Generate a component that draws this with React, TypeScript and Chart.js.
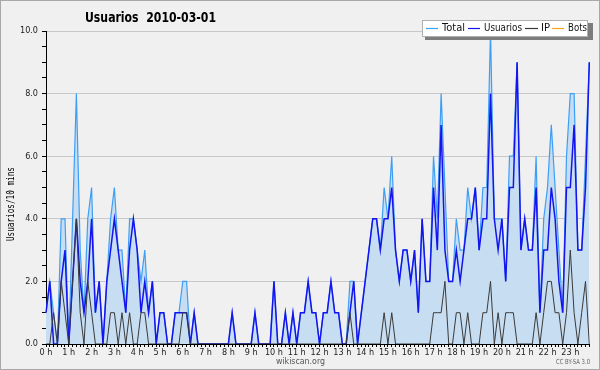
import { useEffect, useRef } from 'react';
import { Chart, registerables } from 'chart.js';
Chart.register(...registerables);

const titleText = 'Usuarios  2010-03-01';
const yTitle = 'Usuarios/10 mins';
const hourTicks = ['0 h','1 h','2 h','3 h','4 h','5 h','6 h','7 h','8 h','9 h','10 h','11 h','12 h','13 h','14 h','15 h','16 h','17 h','18 h','19 h','20 h','21 h','22 h','23 h'];
const slotsPerHour = 6;
const categories: string[] = [];
for (let h = 0; h < 24; h++) for (let m = 0; m < slotsPerHour; m++) categories.push(`${h}:${m}0`);

const usuarios = [
  1,2,0,0,2,3, 0,2,4,2,1,2, 4,1,2,0,2,3, 4,3,2,1,3,4, 3,1,2,1,2,0, 1,1,0,0,1,1,
  1,1,0,1,0,0, 0,0,0,0,0,0, 0,1,0,0,0,0, 0,1,0,0,0,0, 2,0,0,1,0,1, 0,1,1,2,1,1,
  0,1,1,2,1,1, 0,0,1,2,0,1, 2,3,4,4,3,4, 4,5,3,2,3,3, 2,3,1,4,2,2, 5,3,7,3,2,2,
  3,2,3,4,4,5, 3,4,4,8,4,3, 4,2,5,5,9,3, 4,3,3,5,1,3, 3,5,4,2,1,5, 5,7,3,3,5,9
];
const ip = [
  0,0,1,0,2,1, 0,2,4,1,0,2, 1,0,0,0,0,1, 1,0,1,0,1,0, 0,1,1,0,0,0, 0,0,0,0,0,0,
  1,1,0,0,0,0, 0,0,0,0,0,0, 0,0,0,0,0,0, 0,0,0,0,0,0, 0,0,0,0,0,0, 0,0,0,0,0,0,
  0,0,0,0,0,0, 0,0,1,0,0,0, 0,0,0,0,0,1, 0,1,0,0,0,0, 0,0,0,0,0,0, 1,1,1,2,0,0,
  1,1,0,1,0,0, 0,1,1,2,0,1, 0,1,1,1,0,0, 0,0,0,1,0,1, 2,2,1,1,0,1, 3,1,0,1,2,0
];
const total = [
  1,2,1,0,4,4, 0,4,8,3,1,4, 5,1,2,0,2,4, 5,3,3,1,4,4, 3,2,3,1,2,0, 1,1,0,0,1,1,
  2,2,0,1,0,0, 0,0,0,0,0,0, 0,1,0,0,0,0, 0,1,0,0,0,0, 2,0,0,1,0,1, 0,1,1,2,1,1,
  0,1,1,2,1,1, 0,0,2,2,0,1, 2,3,4,4,3,5, 4,6,3,2,3,3, 2,3,1,4,2,2, 6,4,8,5,2,2,
  4,3,3,5,4,5, 3,5,5,10,4,4, 4,2,6,6,9,3, 4,3,3,6,1,4, 5,7,5,3,1,6, 8,8,3,3,6,9
];
const bots = [
  0,0,0,0,0,0, 0,0,0,0,0,0, 0,0,0,0,0,0, 0,0,0,0,0,0, 0,0,0,0,0,0, 0,0,0,0,0,0,
  0,0,0,0,0,0, 0,0,0,0,0,0, 0,0,0,0,0,0, 0,0,0,0,0,0, 0,0,0,0,0,0, 0,0,0,0,0,0,
  0,0,0,0,0,0, 0,0,0,0,0,0, 0,0,0,0,0,0, 0,0,0,0,0,0, 0,0,0,0,0,0, 0,0,0,0,0,0,
  0,0,0,0,0,0, 0,0,0,0,0,0, 0,0,0,0,0,0, 0,0,0,0,0,0, 0,0,0,0,0,0, 0,0,0,0,0,0
];

const C_TOTAL = '#3d9ef5';
const C_FILL = '#c7ddf1';
const C_USR = '#1414f0';
const C_IP = '#3a3a3a';
const C_BOTS = '#ffa41c';
const FONT = '"DejaVu Sans Condensed", "DejaVu Sans", sans-serif';

function fitText(ctx: CanvasRenderingContext2D, text: string, x: number, y: number, w: number) {
  const m = ctx.measureText(text).width;
  const s = w / m;
  ctx.save();
  ctx.translate(x, y);
  ctx.scale(s, 1);
  ctx.textAlign = 'left';
  ctx.fillText(text, 0, 0);
  ctx.restore();
}

const decor = {
  id: 'decor',
  beforeDraw(chart: any) {
    const ctx = chart.ctx as CanvasRenderingContext2D;
    ctx.save();
    ctx.fillStyle = '#f0f0f0';
    ctx.fillRect(0, 0, chart.width, chart.height);
    ctx.restore();
  },
  afterDraw(chart: any) {
    const ctx = chart.ctx as CanvasRenderingContext2D;
    ctx.save();
    // outer border
    ctx.strokeStyle = '#a8a8a8';
    ctx.lineWidth = 1;
    ctx.strokeRect(0.5, 0.5, chart.width - 1, chart.height - 1);
    // title
    ctx.fillStyle = '#000';
    ctx.textBaseline = 'middle';
    ctx.font = 'bold 14px ' + FONT;
    fitText(ctx, titleText, 85, 18, 131);
    // y title
    ctx.save();
    ctx.translate(11, 204);
    ctx.rotate(-Math.PI / 2);
    ctx.font = '10px "DejaVu Sans Mono", monospace';
    ctx.fillStyle = '#000';
    fitText(ctx, yTitle, -37, 0, 74);
    ctx.restore();
    // legend
    ctx.fillStyle = '#7c7c7c';
    ctx.fillRect(425, 23, 168, 17);
    ctx.fillStyle = '#ffffff';
    ctx.fillRect(422, 20, 166, 17);
    ctx.strokeStyle = '#b0b0b0';
    ctx.strokeRect(422.5, 20.5, 165, 16);
    const items = [
      { c: C_TOTAL, x0: 426, x1: 438, t: 'Total', tx: 442, tw: 23 },
      { c: C_USR, x0: 468, x1: 480, t: 'Usuarios', tx: 484, tw: 38 },
      { c: C_IP, x0: 525, x1: 538, t: 'IP', tx: 541, tw: 9 },
      { c: C_BOTS, x0: 552, x1: 564, t: 'Bots', tx: 568, tw: 19 },
    ];
    ctx.font = '11px ' + FONT;
    for (const it of items) {
      ctx.strokeStyle = it.c;
      ctx.lineWidth = 1.2;
      ctx.beginPath();
      ctx.moveTo(it.x0, 28.5);
      ctx.lineTo(it.x1, 28.5);
      ctx.stroke();
      ctx.fillStyle = '#111';
      fitText(ctx, it.t, it.tx, 28.5, it.tw);
    }
    // footer
    ctx.fillStyle = '#555';
    ctx.font = '9px ' + FONT;
    fitText(ctx, 'wikiscan.org', 276, 362, 49);
    ctx.font = '7px ' + FONT;
    ctx.fillStyle = '#666';
    fitText(ctx, 'CC BY-SA 3.0', 556, 362, 34);
    ctx.restore();
  },
};

export default function App() {
  const ref = useRef<HTMLCanvasElement>(null);
  useEffect(() => {
    document.body.style.margin = '0';
    const chart = new Chart(ref.current!, {
      type: 'line',
      data: {
        labels: categories,
        datasets: [
          { label: 'Total', data: total, borderColor: C_TOTAL, backgroundColor: C_FILL, fill: 'origin', borderWidth: 1.2, pointRadius: 0, tension: 0, order: 2 },
          { label: 'Usuarios', data: usuarios, borderColor: C_USR, backgroundColor: C_USR, fill: false, borderWidth: 1.5, pointRadius: 0, tension: 0, order: 1 },
          { label: 'IP', data: ip, borderColor: C_IP, backgroundColor: C_IP, fill: false, borderWidth: 1, pointRadius: 0, tension: 0, order: 0 },
          { label: 'Bots', data: bots, borderColor: C_BOTS, backgroundColor: C_BOTS, fill: false, borderWidth: 1, pointRadius: 0, tension: 0, order: 3 },
        ],
      },
      options: {
        responsive: false,
        animation: false,
        devicePixelRatio: 1,
        layout: { padding: { left: 0, right: 10.7, top: 31, bottom: 0 } },
        plugins: { legend: { display: false }, title: { display: false }, tooltip: { enabled: false } },
        scales: {
          x: {
            type: 'category',
            offset: false,
            border: { color: '#000', width: 1 },
            grid: { display: true, drawOnChartArea: false, tickLength: 3, tickColor: '#000', offset: false },
            ticks: {
              autoSkip: false, maxRotation: 0, minRotation: 0, padding: 0,
              color: '#222', font: { family: FONT, size: 9 },
              callback: (_v: any, i: number) => (i % slotsPerHour === 0 ? hourTicks[i / slotsPerHour] : ''),
            },
            afterFit: (s: any) => { s.height = 26; },
          },
          y: {
            min: 0, max: 10,
            border: { color: '#000', width: 1 },
            grid: {
              color: (c: any) => (c.tick && Math.abs(c.tick.value % 2) < 1e-6 && c.tick.value > 0 ? '#c8c8c8' : 'rgba(0,0,0,0)'),
              tickColor: '#000', tickLength: 4,
            },
            ticks: {
              stepSize: 0.5, maxTicksLimit: 30, autoSkip: false, padding: 4,
              color: '#222', font: { family: FONT, size: 9 },
              callback: (v: any) => (Math.abs(v % 2) < 1e-6 ? Number(v).toFixed(1) : ''),
            },
            afterFit: (s: any) => { s.width = 46; },
          },
        },
      },
      plugins: [decor],
    });
    return () => chart.destroy();
  }, []);
  return <canvas ref={ref} width={600} height={370} style={{ display: 'block', width: 600, height: 370 }} />;
}
